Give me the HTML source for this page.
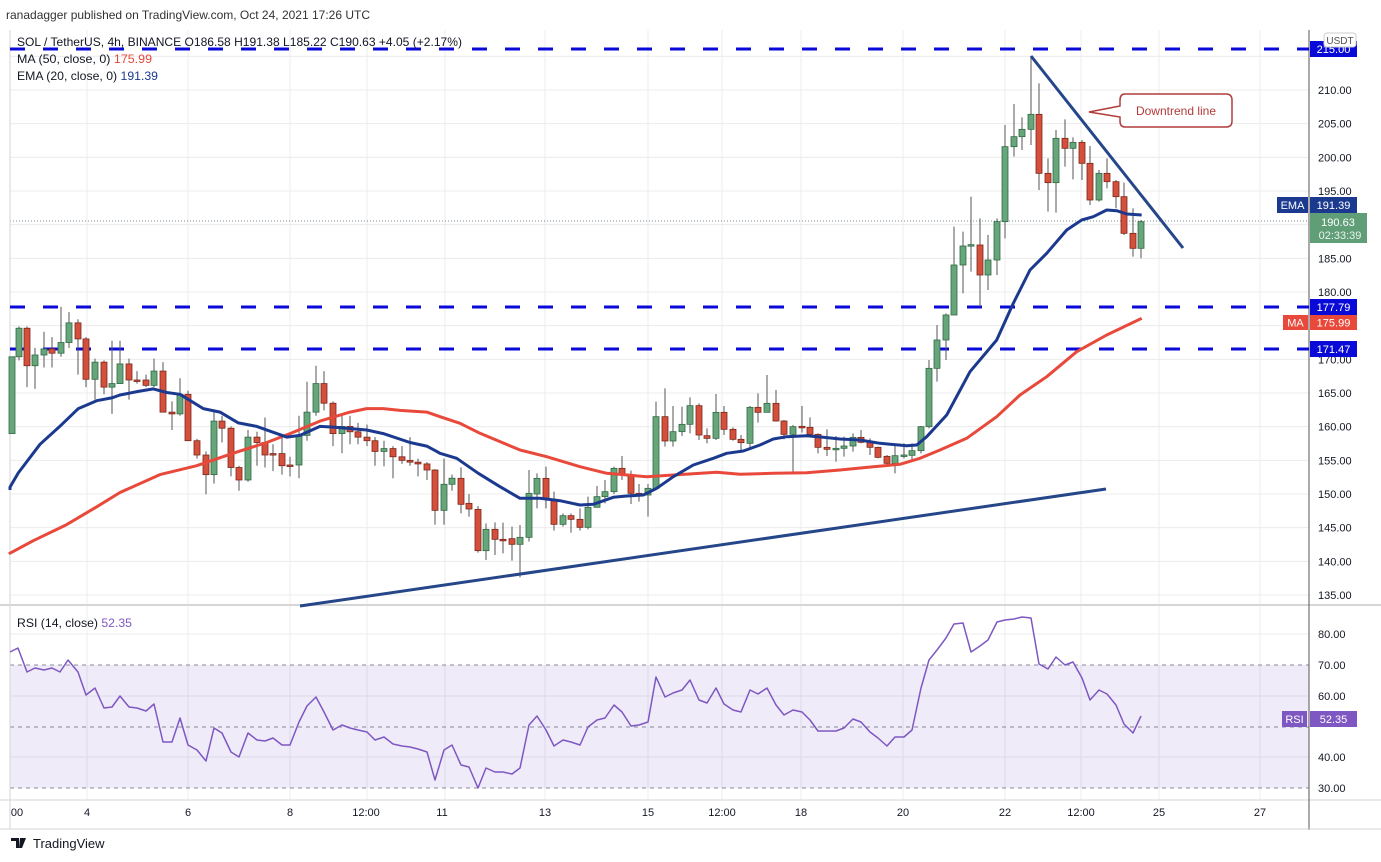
<!DOCTYPE html>
<html><head><meta charset="utf-8"><style>
body{margin:0;background:#fff;font-family:"Liberation Sans",sans-serif;}
svg{display:block}
text{font-family:"Liberation Sans",sans-serif;}
</style></head><body>
<svg id="s" width="1381" height="862" viewBox="0 0 1381 862" xmlns="http://www.w3.org/2000/svg"></svg>
<script>
var o=[];
function P(s){o.push(s);}
P('<rect width="1381" height="862" fill="#fff"/>');
for(var k=-1;k<=15;k++){var y=90+k*33.667;if(y<30||y>600)continue;P('<line x1="10" x2="1309" y1="'+y+'" y2="'+y+'" stroke="#ececec"/>');}
[634,696,757].forEach(function(y){P('<line x1="10" x2="1309" y1="'+y+'" y2="'+y+'" stroke="#ececec"/>');});
[87,188,290,367,445,545,648,722,801,903,1005,1081,1159,1260].forEach(function(x){P('<line x1="'+x+'" x2="'+x+'" y1="30" y2="800" stroke="#ececec"/>');});
P('<rect x="10" y="665" width="1299" height="123" fill="#7e57c2" fill-opacity="0.12"/>');
[665,727,788].forEach(function(y){P('<line x1="10" x2="1309" y1="'+y+'" y2="'+y+'" stroke="#8a8a9a" stroke-dasharray="4,4" stroke-width="1"/>');});
P('<line x1="10" x2="1309" y1="221" y2="221" stroke="#7a8a99" stroke-dasharray="1,2"/>');
P('<line x1="0" x2="1381" y1="605" y2="605" stroke="#d6d6d6" stroke-width="2"/>');
P('<line x1="0" x2="1381" y1="800" y2="800" stroke="#d6d6d6"/>');
P('<line x1="1309" x2="1309" y1="30" y2="830" stroke="#555"/>');
P('<line x1="0" x2="1381" y1="829" y2="829" stroke="#d6d6d6"/>');
P('<line x1="10" x2="10" y1="30" y2="829" stroke="#d6d6d6"/>');
[49,307,349].forEach(function(y){P('<line x1="10" x2="1309" y1="'+y+'" y2="'+y+'" stroke="#0a0ad8" stroke-width="3" stroke-dasharray="15,18"/>');});
function C(x,yo,yc,yh,yl){var g=yc<=yo;var fill=g?'#67a57b':'#d4503d',st=g?'#2f6a43':'#7c2619';
var t=Math.min(yo,yc),b=Math.max(yo,yc);if(b-t<1.5){b=t+1.5;}
P('<line x1="'+x+'" x2="'+x+'" y1="'+yh+'" y2="'+yl+'" stroke="#555" stroke-width="1"/>');
P('<rect x="'+(x-3)+'" y="'+t+'" width="6" height="'+(b-t)+'" fill="'+fill+'" stroke="'+st+'" stroke-width="0.8"/>');}
var z1=[[12,1130,915,915,1130],[19,915,835,830,925],[27,835,940,830,1000],[35,940,910,890,1005],[44,910,893,845,945],[52,893,905,860,945],[61,905,875,775,915],[69,875,820,790,890],[78,820,865,810,965],[86,865,978,860,1000],[95,978,930,920,1035],[104,930,1000,925,1020],[112,1000,990,870,1075],[120,990,935,870,990],[129,935,980,920,1035],[137,980,981,955,990],[146,980,995,965,1000],[154,995,955,920,1000],[163,955,1070,930,1070],[172,1070,1075,1040,1120],[180,1075,1020,975,1080],[188,1020,1150,1010,1150],[197,1150,1190,1145,1200],[206,1190,1245,1180,1300],[214,1245,1095,1070,1270],[222,1095,1115,1080,1155],[231,1115,1225,1110,1250],[239,1225,1260,1220,1290],[248,1260,1140,1120,1265],[257,1140,1155,1125,1220],[265,1155,1190,1085,1225],[273,1186,1187,1160,1235],[282,1186,1220,1140,1245],[290,1218,1219,1195,1250],[299,1218,1135,1080,1255],[307,1135,1070,985,1150],[316,1070,990,940,1080],[324,990,1045,955,1065],[333,1045,1130,1040,1165],[342,1130,1110,1080,1185],[350,1110,1125,1080,1160],[358,1125,1140,1100,1160],[367,1140,1150,1105,1165],[375,1150,1180,1140,1220],[384,1180,1172,1150,1222],[393,1172,1195,1165,1255],[402,1195,1205,1165,1215],[410,1205,1210,1140,1220],[418,1210,1215,1200,1250],[427,1215,1232,1210,1260],[435,1232,1345,1230,1385],[444,1345,1272,1200,1385],[452,1272,1255,1245,1290]];
z1.forEach(function(c){C(c[0],30+c[1]/2.8,30+c[2]/2.8,30+c[3]/2.8,30+c[4]/2.8);});
var z2=[[461,415,493,382,520],[469,490,507,462,530],[478,508,632,498,638],[486,632,568,550,660],[495,568,598,547,645],[503,598,599,548,640],[512,596,613,560,662],[520,613,592,555,712],[529,592,460,390,605],[537,462,415,400,505],[546,415,478,380,505],[554,478,553,455,572],[563,553,527,520,560],[571,527,538,520,578],[580,538,562,505,572],[588,562,502,470,568],[597,502,470,438,500],[605,470,455,420,490],[614,455,385,380,462],[622,385,405,348,420],[631,405,460,392,492],[639,460,465,432,485],[648,465,445,432,530],[656,445,230,185,445],[665,230,303,145,320],[673,303,275,198,320],[682,275,253,200,288],[690,253,197,172,280],[699,197,285,190,300],[707,287,295,265,310],[716,295,217,162,300],[724,217,268,198,285],[733,268,298,262,302],[741,298,308,285,335],[750,310,202,198,325],[758,202,217,160,248],[767,217,190,105,215],[776,190,243,150,245],[784,243,283,240,298],[793,283,260,255,400],[802,259,262,198,278],[810,262,283,232,290],[818,283,322,280,340],[827,322,328,268,348],[836,328,325,288,365],[844,325,318,290,350],[853,318,292,280,335],[861,292,307,270,310],[870,307,322,295,345],[878,322,352,320,355],[887,349,370,345,372],[895,370,347,315,400],[904,346,345,310,355],[912,346,332,310,360],[921,332,260,258,340],[929,260,85,60,265]];
z2.forEach(function(c){C(c[0],340+c[1]/3,340+c[2]/3,340+c[3]/3,340+c[4]/3);});
var z3=[[937,1015,930,885,1055],[946,930,855,850,990],[954,855,705,590,855],[963,705,648,605,790],[971,645,644,500,725],[980,645,735,565,830],[988,735,690,615,780],[997,690,575,565,735],[1005,575,350,285,625],[1014,350,320,222,380],[1022,320,298,262,360],[1031,298,253,78,345],[1039,253,430,160,480],[1048,430,458,385,545],[1056,458,325,300,548],[1065,325,355,268,410],[1073,355,337,322,448],[1082,337,400,330,450],[1090,400,510,348,525],[1099,510,430,420,515],[1107,430,455,385,475],[1116,455,500,450,535],[1124,500,610,458,615],[1133,610,655,535,680],[1141,655,575,570,685]];
z3.forEach(function(c){C(c[0],30+c[1]/3,30+c[2]/3,30+c[3]/3,30+c[4]/3);});
function L(pts,col,w){P('<polyline fill="none" stroke="'+col+'" stroke-width="'+w+'" stroke-linejoin="round" points="'+pts.map(function(p){return p[0].toFixed(1)+','+p[1].toFixed(1);}).join(' ')+'"/>');}
function T1(a){return a.map(function(p){return [p[0]/3,30+p[1]/2.8];});}
function T2(a){return a.map(function(p){return [440+p[0]/3,340+p[1]/3];});}
function T3(a){return a.map(function(p){return [900+p[0]/3,30+p[1]/3];});}
var ema=[[10,490]].concat(T1([[30,1280],[55,1240],[120,1160],[185,1105],[235,1060],[290,1038],[335,1030],[360,1022],[415,1012],[460,1005],[500,1015],[540,1020],[610,1060],[660,1070],[715,1100],[770,1110],[860,1140],[900,1135],[960,1110],[1000,1112],[1100,1120],[1150,1130],[1230,1155],[1280,1165],[1310,1180]]),T2([[0,340],[50,355],[115,400],[180,440],[240,475],[300,475],[360,482],[420,495],[460,493],[520,472],[560,468],[610,465],[650,445],[700,410],[760,375],[820,355],[860,340],[910,333],[960,315],[1000,297],[1040,290],[1100,287],[1150,292],[1200,297],[1260,300],[1320,310],[1400,317],[1430,315]]),T3([[80,1220],[140,1155],[210,1025],[290,930],[340,820],[390,720],[440,670],[500,600],[545,570],[580,560],[620,540],[650,542],[680,552],[725,555]]));
var ma=[[10,552]].concat(T1([[30,1465],[100,1430],[200,1385],[290,1335],[360,1295],[480,1245],[590,1220],[700,1185],[800,1155],[870,1130],[960,1095],[1050,1070],[1100,1060],[1150,1060],[1200,1065],[1280,1070]]),T2([[0,230],[60,250],[120,280],[240,330],[320,350],[420,380],[500,400],[620,410],[700,405],[830,397],[900,403],[1000,400],[1100,398],[1200,390],[1300,380],[1380,373],[1440,355]]),T3([[60,1285],[120,1260],[200,1225],[290,1160],[360,1095],[440,1040],[530,965],[620,915],[725,865]]));
L(ma,'#e8493b',3);L(ema,'#1b3a8f',3);
P('<line x1="300" y1="606" x2="1106" y2="489" stroke="#26468a" stroke-width="3"/>');
P('<line x1="1031" y1="56" x2="1183" y2="248" stroke="#26468a" stroke-width="3"/>');
P('<path d="M1125,94 H1226 Q1232,94 1232,100 V121 Q1232,127 1226,127 H1125 Q1120,127 1120,121 V117 L1089,112 L1120,106 V100 Q1120,94 1125,94 Z" fill="#fff" stroke="#b23b3b" stroke-width="1.5"/>');
P('<text x="1176" y="115" font-size="12" fill="#b23b3b" text-anchor="middle">Downtrend line</text>');
var r=[[10,652],[18,648],[27,672],[35,668],[44,670],[52,668],[60,672],[68,660],[78,672],[86,695],[95,688],[104,708],[112,707],[120,696],[129,707],[137,708],[146,711],[154,704],[163,742],[172,742],[180,718],[188,745],[197,750],[206,761],[214,728],[222,733],[231,752],[239,757],[248,733],[257,740],[265,741],[273,738],[282,745],[290,745],[299,722],[307,706],[316,697],[324,712],[333,730],[342,725],[350,728],[358,730],[367,732],[375,740],[384,737],[393,744],[402,746],[410,747],[418,749],[427,752],[435,780],[444,750],[452,745],[461,765],[469,767],[478,788],[486,768],[495,772],[503,772],[512,774],[520,768],[529,725],[537,716],[546,730],[554,746],[563,740],[571,742],[580,745],[588,727],[597,720],[605,718],[614,705],[622,712],[631,726],[639,725],[648,722],[656,677],[665,697],[673,693],[682,690],[690,680],[699,700],[707,703],[716,688],[724,704],[733,710],[741,712],[750,690],[758,694],[767,688],[776,705],[784,715],[793,710],[802,712],[810,720],[818,731],[827,731],[836,731],[844,728],[853,719],[861,722],[870,732],[878,738],[887,746],[895,737],[904,737],[912,730],[921,688],[929,660],[937,650],[946,638],[954,624],[963,623],[971,652],[980,646],[988,640],[997,622],[1005,620],[1014,619],[1022,617],[1031,618],[1039,664],[1048,669],[1056,657],[1065,665],[1073,662],[1082,678],[1090,700],[1099,690],[1107,694],[1116,705],[1124,724],[1133,733],[1141,716]];
L(r,'#7e57c2',1.5);
var labs=[[210,'210.00'],[205,'205.00'],[200,'200.00'],[195,'195.00'],[185,'185.00'],[180,'180.00'],[170,'170.00'],[165,'165.00'],[160,'160.00'],[155,'155.00'],[150,'150.00'],[145,'145.00'],[140,'140.00'],[135,'135.00']];
labs.forEach(function(l){var y=90+(210-l[0])*6.733;P('<text x="1318" y="'+(y+4)+'" font-size="11" fill="#131722">'+l[1]+'</text>');});
[[80,634],[70,665],[60,696],[40,757],[30,788]].forEach(function(l){P('<text x="1318" y="'+(l[1]+4)+'" font-size="11" fill="#131722">'+l[0]+'.00</text>');});
function B(x,y,w,h,bg,txt,col,fs){P('<rect x="'+x+'" y="'+y+'" width="'+w+'" height="'+h+'" fill="'+bg+'"/>');P('<text x="'+(x+w/2)+'" y="'+(y+h/2+4)+'" font-size="'+(fs||11)+'" fill="'+(col||'#fff')+'" text-anchor="middle">'+txt+'</text>');}
B(1310,41,47,16,'#0a0ad8','215.00');
P('<rect x="1324" y="33" width="32" height="14" rx="3" fill="#fff" stroke="#ccc"/><text x="1340" y="44" font-size="10" fill="#555" text-anchor="middle">USDT</text>');
B(1277,197,31,16,'#1b3a8f','EMA');B(1310,197,47,16,'#1b3a8f','191.39');
P('<rect x="1310" y="213" width="57" height="30" fill="#5f9e77"/><text x="1338" y="226" font-size="11" fill="#fff" text-anchor="middle">190.63</text><text x="1340" y="239" font-size="11" fill="#eaf4ee" text-anchor="middle">02:33:39</text>');
B(1310,299,47,16,'#0a0ad8','177.79');
B(1283,315,25,15,'#e8493b','MA');B(1310,315,47,15,'#e8493b','175.99');
B(1310,341,47,16,'#0a0ad8','171.47');
B(1282,711,25,16,'#7e57c2','RSI');B(1310,711,47,16,'#7e57c2','52.35');
[[17,'00'],[87,'4'],[188,'6'],[290,'8'],[366,'12:00'],[442,'11'],[545,'13'],[648,'15'],[722,'12:00'],[801,'18'],[903,'20'],[1005,'22'],[1081,'12:00'],[1159,'25'],[1260,'27']].forEach(function(t){P('<text x="'+t[0]+'" y="816" font-size="11" fill="#131722" text-anchor="middle">'+t[1]+'</text>');});
P('<text x="6" y="19" font-size="12" fill="#333" textLength="364" lengthAdjust="spacingAndGlyphs">ranadagger published on TradingView.com, Oct 24, 2021 17:26 UTC</text>');
P('<text x="17" y="46" font-size="12" fill="#131722" textLength="445" lengthAdjust="spacingAndGlyphs">SOL / TetherUS, 4h, BINANCE  O186.58  H191.38  L185.22  C190.63  +4.05 (+2.17%)</text>');
P('<text x="17" y="63" font-size="12" fill="#131722" textLength="135" lengthAdjust="spacingAndGlyphs">MA (50, close, 0) <tspan fill="#e8493b">175.99</tspan></text>');
P('<text x="17" y="80" font-size="12" fill="#131722" textLength="141" lengthAdjust="spacingAndGlyphs">EMA (20, close, 0) <tspan fill="#1b3a8f">191.39</tspan></text>');
P('<text x="17" y="627" font-size="12" fill="#131722" textLength="115" lengthAdjust="spacingAndGlyphs">RSI (14, close) <tspan fill="#7e57c2">52.35</tspan></text>');
P('<path d="M11,838 h8 v10 h-3 v-7 h-5z M20,838 h6 l-4,10 h-3z" fill="#131722"/>');
P('<text x="33" y="848" font-size="13" fill="#131722">TradingView</text>');
document.getElementById('s').innerHTML=o.join('');
</script>
</body></html>
